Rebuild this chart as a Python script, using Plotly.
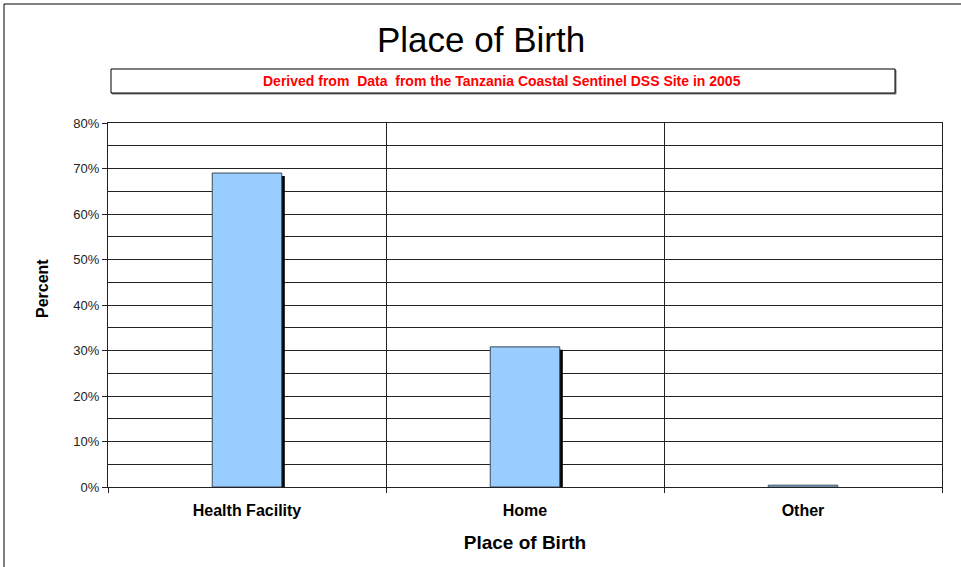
import plotly.graph_objects as go

categories = ["Health Facility", "Home", "Other"]
percent_values = [0.690, 0.308, 0.004]
y_tick_values = [0, 0.1, 0.2, 0.3, 0.4, 0.5, 0.6, 0.7, 0.8]
y_tick_labels = ["0%", "10%", "20%", "30%", "40%", "50%", "60%", "70%", "80%"]

title_text = "Place of Birth"
subtitle_text = "Derived from  Data  from the Tanzania Coastal Sentinel DSS Site in 2005"
x_title = "Place of Birth"
y_title = "Percent"

FONT = "Liberation Sans, Arial, sans-serif"
bar_w = 0.25
shadow_dx = 0.011
shadow_dy = 0.0066

# plot area in page pixels
L, T, R, B = 108, 123, 942, 487
PW, PH = R - L, B - T


def px(x):
    return (x - L) / PW


def py(y):
    return (B - y) / PH


fig = go.Figure()
# shadow
fig.add_trace(go.Bar(
    x=categories,
    y=[max(v - shadow_dy, 0) for v in percent_values],
    width=bar_w, offset=-bar_w / 2 + shadow_dx,
    marker=dict(color="#000000", line=dict(width=0)),
    hoverinfo="skip", showlegend=False,
))
fig.add_trace(go.Bar(
    x=categories, y=percent_values,
    width=bar_w, offset=-bar_w / 2,
    marker=dict(color="#99CCFF", line=dict(color="#3a4a5a", width=1)),
    showlegend=False,
))

fig.update_layout(
    width=961, height=567,
    margin=dict(l=L, r=961 - R, t=T, b=567 - B),
    paper_bgcolor="white", plot_bgcolor="white",
    barmode="overlay",
    font=dict(family=FONT, color="black", size=12),
    xaxis=dict(
        type="category", tickson="boundaries",
        showgrid=True, gridcolor="#222222", gridwidth=1,
        showline=True, linecolor="#222222", linewidth=1, mirror=True,
        ticks="outside", ticklen=5, tickcolor="#222222",
        ticklabelstandoff=9,
        tickfont=dict(family=FONT, size=16, color="black", weight="bold"),
        title=dict(text=x_title, font=dict(family=FONT, size=19, weight="bold"), standoff=17),
        range=[-0.5, 2.5],
    ),
    yaxis=dict(
        range=[0, 0.8], tickvals=y_tick_values, ticktext=y_tick_labels,
        showgrid=True, gridcolor="#222222", gridwidth=1,
        minor=dict(dtick=0.05, showgrid=True, gridcolor="#222222", gridwidth=1),
        showline=True, linecolor="#222222", linewidth=1, mirror=True,
        ticks="outside", ticklen=5, tickcolor="#222222",
        tickfont=dict(family=FONT, size=13, color="#222222"),
        zeroline=False,
    ),
    shapes=[
        # outer chart border
        dict(type="rect", xref="paper", yref="paper",
             x0=px(4), x1=px(990), y0=py(600), y1=py(4),
             line=dict(color="black", width=1), fillcolor="rgba(0,0,0,0)", layer="below"),
        # subtitle box shadow
        dict(type="rect", xref="paper", yref="paper",
             x0=px(112), x1=px(896), y0=py(94), y1=py(70),
             line=dict(color="#777777", width=1), fillcolor="#777777"),
        # subtitle box
        dict(type="rect", xref="paper", yref="paper",
             x0=px(111), x1=px(895), y0=py(93), y1=py(69),
             line=dict(color="black", width=1), fillcolor="white"),
    ],
    annotations=[
        dict(text=title_text, xref="paper", yref="paper",
             x=px(481), y=py(40), xanchor="center", yanchor="middle",
             showarrow=False, font=dict(family=FONT, size=35, color="black")),
        dict(text=subtitle_text, xref="paper", yref="paper",
             x=px(502), y=py(81), xanchor="center", yanchor="middle",
             showarrow=False, font=dict(family=FONT, size=14, color="#FF0000", weight="bold")),
        dict(text=y_title, xref="paper", yref="paper", textangle=-90,
             x=px(42), y=py(289), xanchor="center", yanchor="middle",
             showarrow=False, font=dict(family=FONT, size=16, color="black", weight="bold")),
    ],
)

fig.write_html("out.html", config={"displayModeBar": False},
               post_script="document.body.style.margin='0';")
